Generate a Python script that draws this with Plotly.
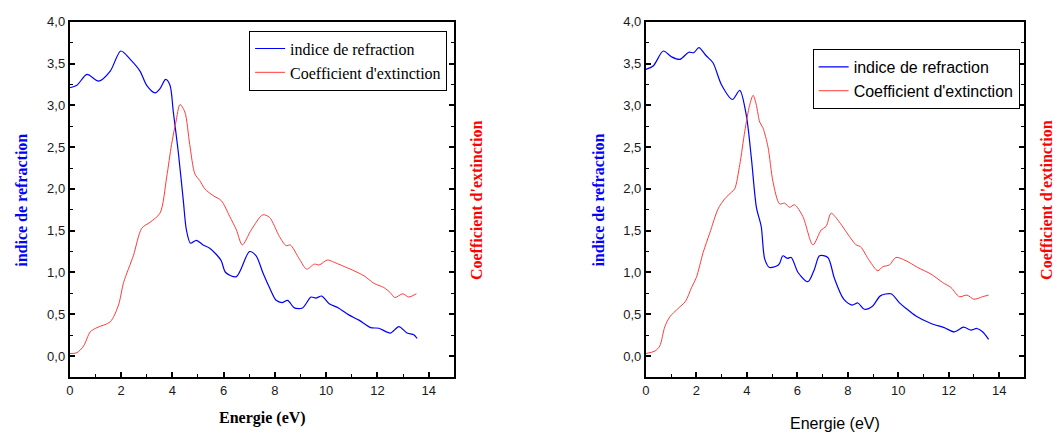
import plotly.graph_objects as go

# ---------------- data ----------------
E_n_left = [0, 0.28, 0.67, 1.13, 1.58, 1.99, 2.36, 2.74, 3.0, 3.33, 3.52, 3.74, 3.91, 4.04, 4.23,
            4.43, 4.55, 4.71, 4.94, 5.2, 5.46, 5.72, 5.91, 6.08, 6.5, 7.01, 7.27, 7.53, 7.79, 8.05,
            8.28, 8.5, 8.76, 9.08, 9.41, 9.6, 9.83, 10.12, 10.48, 10.9, 11.28, 11.74, 12.06, 12.51,
            12.84, 13.16, 13.42, 13.55]
n_left = [3.21, 3.24, 3.37, 3.29, 3.41, 3.65, 3.55, 3.41, 3.24, 3.15, 3.20, 3.31, 3.24, 2.92, 2.45,
          1.86, 1.51, 1.35, 1.385, 1.33, 1.29, 1.215, 1.14, 1.0, 0.95, 1.25, 1.20, 1.0, 0.82, 0.667,
          0.64, 0.667, 0.576, 0.576, 0.706, 0.694, 0.718, 0.627, 0.576, 0.49, 0.43, 0.34, 0.333, 0.275,
          0.353, 0.275, 0.255, 0.21]

E_k_left = [0, 0.28, 0.54, 0.8, 1.06, 1.58, 1.9, 2.1, 2.48, 2.81, 3.13, 3.52, 3.78, 3.97, 4.14, 4.3,
            4.49, 4.68, 4.88, 5.07, 5.27, 5.59, 5.91, 6.24, 6.5, 6.73, 7.08, 7.53, 7.79, 8.18, 8.44,
            8.6, 8.96, 9.24, 9.54, 9.73, 10.05, 10.25, 10.64, 11.02, 11.48, 11.87, 12.25, 12.5, 12.68,
            12.99, 13.22, 13.52]
k_left = [0.03, 0.04, 0.12, 0.29, 0.34, 0.41, 0.61, 0.88, 1.20, 1.53, 1.60, 1.71, 2.14, 2.53, 2.80,
          3.01, 2.92, 2.53, 2.18, 2.10, 2.0, 1.92, 1.86, 1.67, 1.51, 1.33, 1.51, 1.69, 1.66, 1.43,
          1.32, 1.33, 1.16, 1.04, 1.10, 1.09, 1.15, 1.13, 1.08, 1.03, 0.96, 0.87, 0.82, 0.76, 0.70,
          0.745, 0.706, 0.745]

E_n_right = [0, 0.29, 0.69, 1.02, 1.35, 1.70, 1.9, 2.1, 2.4, 2.66, 2.99, 3.43, 3.72, 3.98, 4.18,
             4.38, 4.57, 4.71, 4.9, 5.2, 5.3, 5.43, 5.6, 5.76, 6.03, 6.42, 6.68, 6.88, 7.21, 7.47,
             7.84, 8.17, 8.4, 8.66, 8.99, 9.29, 9.71, 10.04, 10.31, 10.7, 11.3, 11.82, 12.22, 12.59,
             12.88, 13.12, 13.34, 13.58]
n_right = [3.43, 3.47, 3.65, 3.58, 3.55, 3.635, 3.63, 3.69, 3.59, 3.51, 3.25, 3.07, 3.18, 2.88, 2.37,
           1.78, 1.55, 1.16, 1.06, 1.08, 1.11, 1.20, 1.17, 1.18, 1.0, 0.89, 1.04, 1.20, 1.18, 0.93,
           0.68, 0.61, 0.635, 0.56, 0.60, 0.72, 0.745, 0.64, 0.57, 0.48, 0.39, 0.34, 0.29, 0.345,
           0.31, 0.33, 0.29, 0.20]

E_k_right = [0, 0.36, 0.55, 0.75, 0.95, 1.28, 1.57, 1.81, 2.0, 2.27, 2.53, 2.86, 3.12, 3.39, 3.52,
             3.72, 3.92, 4.11, 4.25, 4.38, 4.51, 4.64, 4.84, 5.04, 5.3, 5.5, 5.69, 5.89, 6.22, 6.62,
             6.95, 7.14, 7.34, 7.6, 8.07, 8.33, 8.5, 8.86, 9.19, 9.39, 9.65, 9.91, 10.31, 10.77, 11.3,
             11.76, 12.09, 12.42, 12.72, 13.0, 13.34, 13.58]
k_right = [0.03, 0.06, 0.12, 0.35, 0.47, 0.57, 0.655, 0.82, 0.94, 1.24, 1.47, 1.76, 1.88, 1.96, 2.0,
           2.29, 2.69, 3.0, 3.12, 3.0, 2.80, 2.73, 2.50, 2.08, 1.82, 1.83, 1.78, 1.81, 1.67, 1.33,
           1.51, 1.55, 1.71, 1.63, 1.43, 1.33, 1.31, 1.14, 1.02, 1.07, 1.09, 1.18, 1.14, 1.06, 0.98,
           0.88, 0.82, 0.71, 0.73, 0.68, 0.71, 0.73]

x_tickvals = [0, 2, 4, 6, 8, 10, 12, 14]
y_tickvals = [0.0, 0.5, 1.0, 1.5, 2.0, 2.5, 3.0, 3.5, 4.0]
name_n = "indice de refraction"
name_k = "Coefficient d'extinction"
x_title = "Energie (eV)"

# ---------------- figure ----------------
W, H = 1061, 435
BLUE = "#0000ff"
RED = "#ff3b3b"
SERIF = "Liberation Serif"
SANS = "Liberation Sans"

fig = go.Figure()
fig.add_trace(go.Scatter(x=E_n_left, y=n_left, name=name_n, mode="lines",
                         line=dict(color=BLUE, width=1.2, shape="spline", smoothing=0.8),
                         xaxis="x", yaxis="y", legend="legend"))
fig.add_trace(go.Scatter(x=E_k_left, y=k_left, name=name_k, mode="lines",
                         line=dict(color=RED, width=1.0, shape="spline", smoothing=0.8),
                         xaxis="x", yaxis="y", legend="legend"))
fig.add_trace(go.Scatter(x=E_n_right, y=n_right, name=name_n, mode="lines",
                         line=dict(color=BLUE, width=1.2, shape="spline", smoothing=0.8),
                         xaxis="x2", yaxis="y2", legend="legend2"))
fig.add_trace(go.Scatter(x=E_k_right, y=k_right, name=name_k, mode="lines",
                         line=dict(color=RED, width=1.0, shape="spline", smoothing=0.8),
                         xaxis="x2", yaxis="y2", legend="legend2"))

def px_x(p):
    return p / W

def px_y(p):
    return 1 - p / H

ydom = [px_y(376), px_y(15)]
xdom1 = [px_x(66), px_x(452)]
xdom2 = [px_x(644.3), px_x(1024.3)]

tickfont = dict(family=SANS, size=13, color="#1a1a1a")

def xaxis_cfg(dom, anchor):
    return dict(domain=dom, anchor=anchor, range=[0, 15], tickmode="array",
                tickvals=x_tickvals, ticktext=[str(v) for v in x_tickvals],
                ticks="inside", ticklen=5, tickwidth=1.5, tickcolor="black",
                minor=dict(dtick=1, tick0=0, ticks="inside", ticklen=3, tickwidth=1.2, tickcolor="black"),
                showline=True, linecolor="black", linewidth=2, mirror=True,
                showgrid=False, zeroline=False, tickfont=tickfont)

def yaxis_cfg(anchor):
    return dict(domain=ydom, anchor=anchor, range=[-0.25, 4.0], tickmode="array",
                tickvals=y_tickvals, ticktext=[f"{v:.1f}".replace(".", ",") for v in y_tickvals],
                ticks="inside", ticklen=5, tickwidth=1.5, tickcolor="black",
                minor=dict(dtick=0.25, tick0=0, ticks="inside", ticklen=3, tickwidth=1.2, tickcolor="black"),
                showline=True, linecolor="black", linewidth=2, mirror="ticks",
                showgrid=False, zeroline=False, tickfont=tickfont)

fig.update_layout(
    width=W, height=H,
    margin=dict(l=0, r=0, t=0, b=0),
    paper_bgcolor="white", plot_bgcolor="white",
    showlegend=True,
    xaxis=xaxis_cfg(xdom1, "y"),
    yaxis=yaxis_cfg("x"),
    xaxis2=xaxis_cfg(xdom2, "y2"),
    yaxis2=yaxis_cfg("x2"),
    legend=dict(x=px_x(246), y=px_y(24), xanchor="left", yanchor="top",
                bordercolor="black", borderwidth=1, bgcolor="white",
                font=dict(family=SERIF, size=16, color="black"), itemwidth=30,
                tracegroupgap=0),
    legend2=dict(x=px_x(811.7), y=px_y(42.7), xanchor="left", yanchor="top",
                 bordercolor="black", borderwidth=1, bgcolor="white",
                 font=dict(family=SANS, size=16, color="black"), itemwidth=30,
                 tracegroupgap=0),
)

ann = [
    dict(x=px_x(18), y=px_y(196), text=f"<b>{name_n}</b>", textangle=-90,
         font=dict(family=SERIF, size=16, color=BLUE)),
    dict(x=px_x(475), y=px_y(196), text=f"<b>{name_k}</b>", textangle=-90,
         font=dict(family=SERIF, size=16, color="#ff0000")),
    dict(x=px_x(597), y=px_y(196), text=f"<b>{name_n}</b>", textangle=-90,
         font=dict(family=SERIF, size=16, color=BLUE)),
    dict(x=px_x(1047), y=px_y(196), text=f"<b>{name_k}</b>", textangle=-90,
         font=dict(family=SERIF, size=16, color="#ff0000")),
    dict(x=px_x(259), y=px_y(418), text=f"<b>{x_title}</b>",
         font=dict(family=SERIF, size=16, color="black")),
    dict(x=px_x(834), y=px_y(423), text=x_title,
         font=dict(family=SANS, size=16, color="black")),
]
for a in ann:
    a.update(xref="paper", yref="paper", xanchor="center", yanchor="middle", showarrow=False)
fig.update_layout(annotations=ann)

fig.write_html("out.html",
               config={"displayModeBar": False},
               post_script="document.body.style.margin='0';document.body.style.padding='0';"
                           "document.body.style.overflow='hidden';")
